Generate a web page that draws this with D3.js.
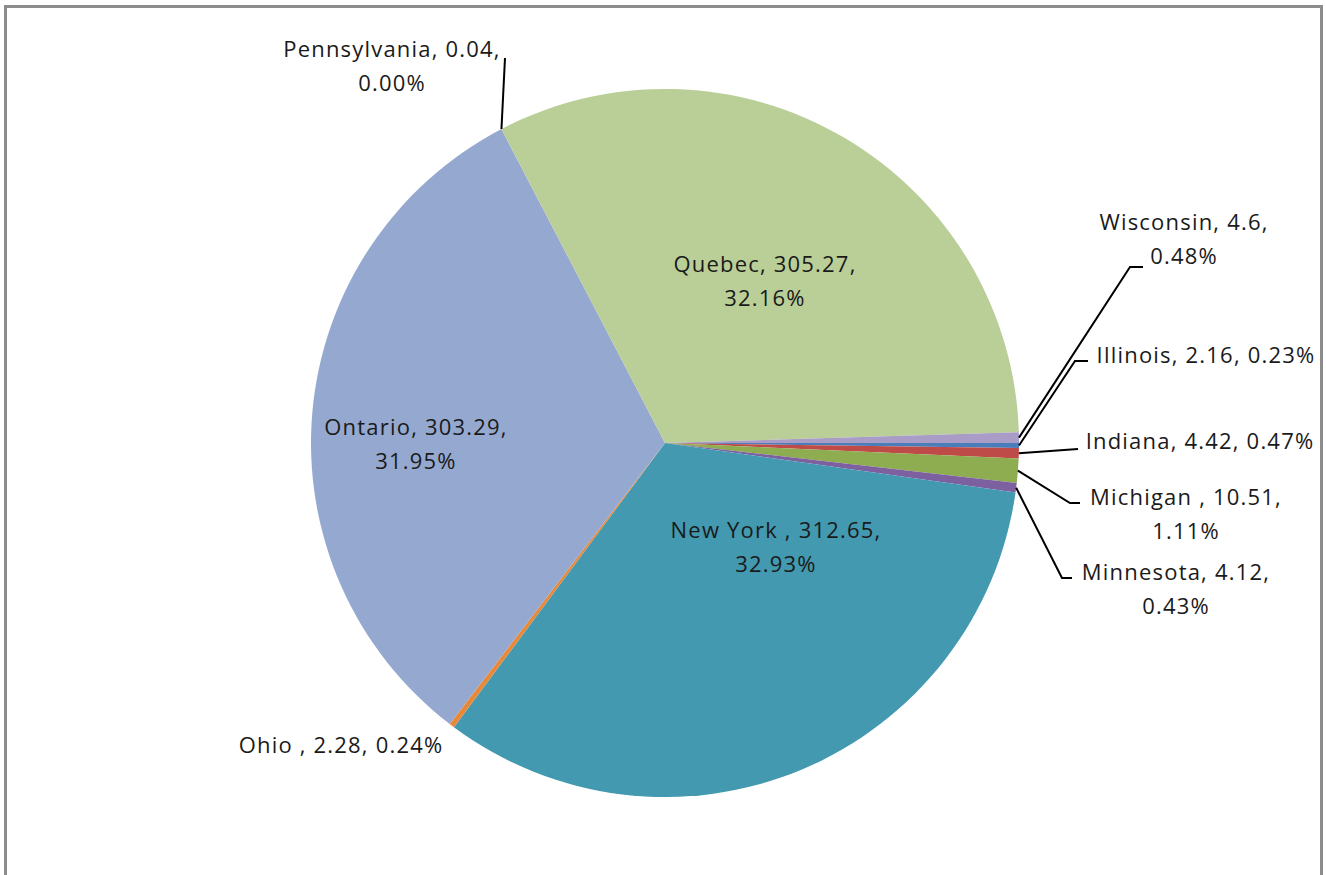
<!DOCTYPE html>
<html lang="en">
<head>
	<meta charset="UTF-8">
	<title>Pie</title>
	<script src="https://cdn.jsdelivr.net/npm/d3@7/dist/d3.min.js"></script>
	<style>
		body {
			margin: 0;
			background: #ffffff;
		}

		.frame {
			fill: #ffffff;
			stroke: #8c8c8c;
			stroke-width: 3px;
		}

		.lbl {
			font-family: "Open Sans", sans-serif;
			font-size: 22px;
			letter-spacing: 1.2px;
			fill: #1a1a1a;
		}

		.leader {
			fill: none;
			stroke: #000000;
			stroke-width: 2px;
		}
	</style>
</head>
<body>
<script>
	// data, in the sheet's (alphabetical) order
	var names = ["Illinois", "Indiana", "Michigan ", "Minnesota", "New York ", "Ohio ", "Ontario", "Pennsylvania", "Quebec", "Wisconsin"];
	var values = [2.16, 4.42, 10.51, 4.12, 312.65, 2.28, 303.29, 0.04, 305.27, 4.6];
	var colors = ["#4a7ebb", "#be4b48", "#8eac50", "#7d60a0", "#4399b0", "#e8893a", "#95a9d0", "#d8a3a2", "#b9cf97", "#a99cc6"];

	// where each label goes and how it wraps (layout only)
	var labelLayout = {
		"Illinois": {x: 1206, y: 355, wrap: false, leader: [[1075, 361], [1088, 361]]},
		"Indiana": {x: 1200, y: 441, wrap: false, leader: [[1078, 449]]},
		"Michigan ": {x: 1186, y: 497, wrap: true, leader: [[1070, 503], [1080, 503]]},
		"Minnesota": {x: 1176, y: 572, wrap: true, leader: [[1062, 578], [1072, 578]]},
		"New York ": {x: 776, y: 530, wrap: true},
		"Ohio ": {x: 341, y: 745, wrap: false},
		"Ontario": {x: 416, y: 427, wrap: true},
		"Pennsylvania": {x: 392, y: 49, wrap: true, leader: [[505, 58]]},
		"Quebec": {x: 765, y: 264, wrap: true},
		"Wisconsin": {x: 1184, y: 222, wrap: true, leader: [[1130, 267], [1143, 267]]}
	};

	var width = 1326, height = 875;
	var cx = 665, cy = 443, radius = 354;
	var lineGap = 34;

	var total = d3.sum(values);
	var rows = names.map(function (n, i) {
		return {name: n, value: values[i], color: colors[i]};
	});

	var svg = d3.select("body").append("svg")
		.attr("width", width)
		.attr("height", height);

	svg.append("rect")
		.attr("class", "frame")
		.attr("x", 5.5)
		.attr("y", 6.5)
		.attr("width", 1316)
		.attr("height", 900);

	var pie = d3.pie()
		.sort(null)
		.value(function (d) { return d.value; })
		.startAngle(Math.PI / 2)
		.endAngle(Math.PI / 2 + 2 * Math.PI);

	var arc = d3.arc().innerRadius(0).outerRadius(radius);

	var g = svg.append("g").attr("transform", "translate(" + cx + "," + cy + ")");
	var arcs = pie(rows);

	g.selectAll("path.slice")
		.data(arcs)
		.enter().append("path")
		.attr("class", "slice")
		.attr("d", arc)
		.style("fill", function (d) { return d.data.color; });

	// leader lines from slice rim to label
	arcs.forEach(function (d) {
		var lay = labelLayout[d.data.name];
		if (!lay.leader) return;
		var mid = (d.startAngle + d.endAngle) / 2;
		var pts = [[cx + radius * Math.sin(mid), cy - radius * Math.cos(mid)]].concat(lay.leader);
		svg.append("path")
			.attr("class", "leader")
			.attr("d", d3.line()(pts));
	});

	// data labels: "name, value, pct"
	arcs.forEach(function (d) {
		var lay = labelLayout[d.data.name];
		var pct = (d.data.value / total * 100).toFixed(2) + "%";
		var lines = lay.wrap
			? [d.data.name + ", " + d.data.value + ",", pct]
			: [d.data.name + ", " + d.data.value + ", " + pct];
		var t = svg.append("text")
			.attr("class", "lbl")
			.attr("text-anchor", "middle")
			.attr("x", lay.x)
			.attr("y", lay.y)
			.attr("xml:space", "preserve")
			.style("white-space", "pre");
		lines.forEach(function (s, i) {
			t.append("tspan")
				.attr("x", lay.x)
				.attr("y", lay.y + i * lineGap)
				.attr("dy", "0.35em")
				.text(s);
		});
	});
</script>
</body>
</html>
